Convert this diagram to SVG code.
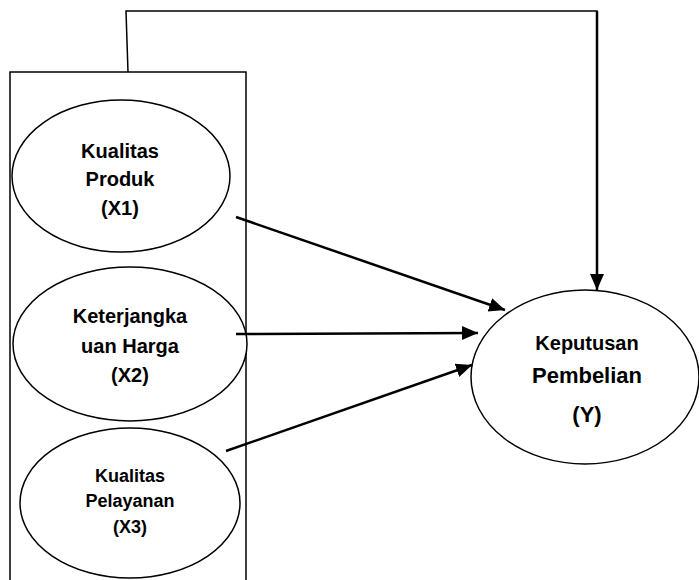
<svg xmlns="http://www.w3.org/2000/svg" width="699" height="580" viewBox="0 0 699 580">
<style>
  .shape { fill: #fff; stroke: #000; stroke-width: 1.5; }
  .frame { fill: none; stroke: #000; stroke-width: 1.5; }
  .conn { fill: none; stroke: #000; stroke-width: 2.5; }
  .label { font-family: "Liberation Sans", Arial, sans-serif; font-weight: bold; fill: #000; text-anchor: middle; }
</style>
<defs>
  <marker id="arrow" markerUnits="userSpaceOnUse" markerWidth="18" markerHeight="16" refX="16" refY="7" orient="auto">
    <path d="M0,0 L16,7 L0,14 z" fill="#000"/>
  </marker>
</defs>
<rect width="699" height="580" fill="#fff"/>
<g id="frame">
  <rect class="frame" x="10" y="72" width="236" height="530"/>
</g>
<g id="x1">
  <ellipse class="shape" cx="121" cy="176" rx="109" ry="76"/>
  <text class="label" x="120" y="158" font-size="20">Kualitas</text>
  <text class="label" x="120" y="186" font-size="20">Produk</text>
  <text class="label" x="120" y="215" font-size="20">(X1)</text>
</g>
<g id="x2">
  <ellipse class="shape" cx="130" cy="344" rx="117" ry="77"/>
  <text class="label" x="130" y="323" font-size="20">Keterjangka</text>
  <text class="label" x="130" y="353" font-size="20">uan Harga</text>
  <text class="label" x="130" y="382" font-size="20">(X2)</text>
</g>
<g id="x3">
  <ellipse class="shape" cx="130" cy="503" rx="110" ry="75"/>
  <text class="label" x="130" y="482" font-size="18">Kualitas</text>
  <text class="label" x="130" y="507" font-size="18">Pelayanan</text>
  <text class="label" x="130" y="533" font-size="18">(X3)</text>
</g>
<g id="y">
  <ellipse class="shape" cx="585" cy="377" rx="114" ry="87"/>
  <text class="label" x="587" y="350" font-size="20">Keputusan</text>
  <text class="label" x="587" y="383" font-size="22">Pembelian</text>
  <text class="label" x="587" y="422" font-size="22">(Y)</text>
</g>
<g id="connectors">
  <line class="conn" x1="236" y1="217" x2="505" y2="310" marker-end="url(#arrow)"/>
  <line class="conn" x1="236" y1="334" x2="478" y2="333" marker-end="url(#arrow)"/>
  <line class="conn" x1="226" y1="451" x2="472" y2="365" marker-end="url(#arrow)"/>
  <polyline class="frame" points="128,72 126,11 597,11 597,14"/>
  <line class="conn" x1="597" y1="11" x2="597" y2="290" marker-end="url(#arrow)"/>
</g>
</svg>
